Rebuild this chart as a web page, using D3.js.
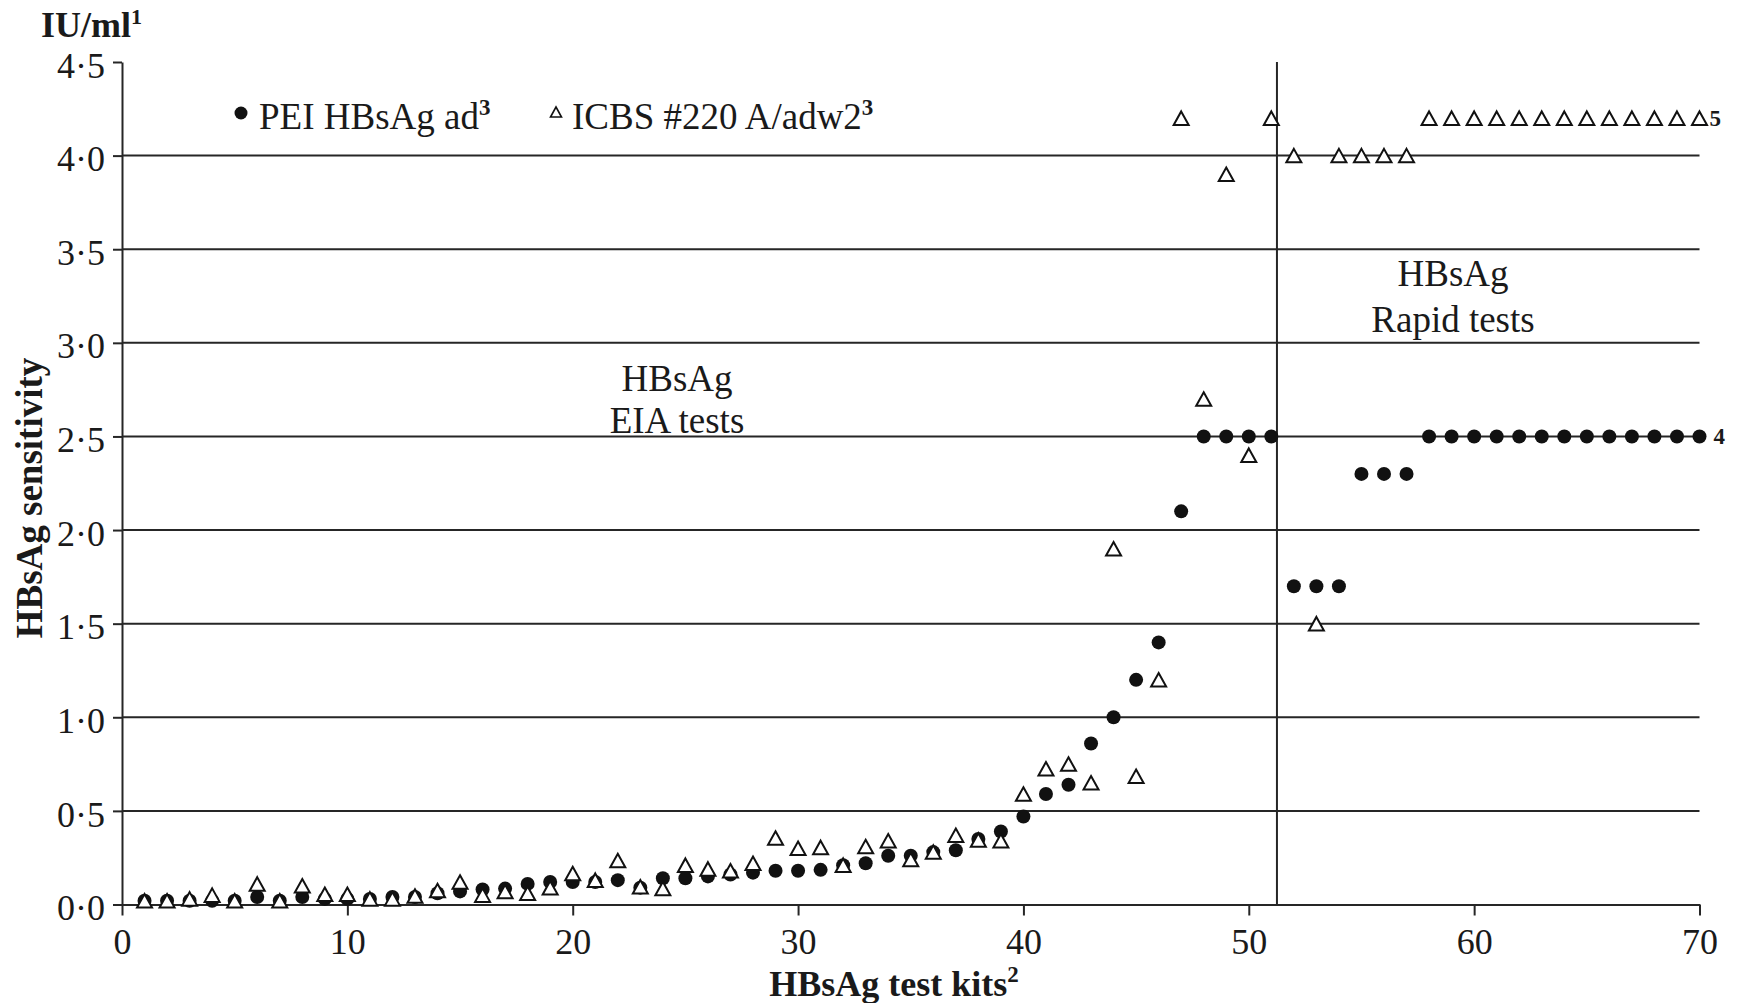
<!DOCTYPE html>
<html>
<head>
<meta charset="utf-8">
<script src="https://cdn.jsdelivr.net/npm/d3@7"></script>
<style>
  html, body { margin: 0; padding: 0; background: #fff; }
  svg { display: block; }
  text { font-family: "Liberation Serif", "Times New Roman", serif; fill: #1a1a1a; }
</style>
</head>
<body>
<script>
// ---------------- DATA ----------------
const kits = [1,2,3,4,5,6,7,8,9,10,11,12,13,14,15,16,17,18,19,20,
              21,22,23,24,25,26,27,28,29,30,31,32,33,34,35,36,37,38,39,40,
              41,42,43,44,45,46,47,48,49,50,51,52,53,54,55,56,57,58,59,60,
              61,62,63,64,65,66,67,68,69,70];

// PEI HBsAg ad (filled dots), IU/ml
const pei = [0.02,0.02,0.02,0.02,0.02,0.04,0.02,0.04,0.03,0.03,
             0.03,0.04,0.04,0.06,0.07,0.08,0.085,0.11,0.12,0.12,
             0.12,0.13,0.09,0.14,0.14,0.15,0.16,0.17,0.18,0.18,
             0.185,0.21,0.22,0.26,0.26,0.28,0.29,0.35,0.39,0.47,
             0.59,0.64,0.86,1.0,1.2,1.4,2.1,2.5,2.5,2.5,
             2.5,1.7,1.7,1.7,2.3,2.3,2.3,2.5,2.5,2.5,
             2.5,2.5,2.5,2.5,2.5,2.5,2.5,2.5,2.5,2.5];

// ICBS #220 A/adw2 (open triangles), IU/ml
const icbs = [0.02,0.02,0.03,0.05,0.02,0.11,0.02,0.10,0.055,0.055,
              0.03,0.03,0.045,0.075,0.12,0.05,0.07,0.06,0.09,0.165,
              0.13,0.235,0.095,0.085,0.21,0.19,0.18,0.22,0.355,0.30,
              0.305,0.21,0.31,0.34,0.24,0.28,0.37,0.345,0.34,0.59,
              0.725,0.75,0.65,1.9,0.685,1.2,4.2,2.7,3.9,2.4,
              4.2,4.0,1.5,4.0,4.0,4.0,4.0,4.2,4.2,4.2,
              4.2,4.2,4.2,4.2,4.2,4.2,4.2,4.2,4.2,4.2];

const xTicks = [0,10,20,30,40,50,60,70];
const xTickLabels = ["0","10","20","30","40","50","60","70"];
const yTicks = [0,0.5,1,1.5,2,2.5,3,3.5,4,4.5];
const yTickLabels = ["0·0","0·5","1·0","1·5","2·0","2·5","3·0","3·5","4·0","4·5"];
const gridValues = [0.5,1,1.5,2,2.5,3,3.5,4];
const dividerKit = 51.25;   // boundary between EIA and rapid tests

// ---------------- LAYOUT ----------------
const W = 1743, H = 1003;
const mLeft = 122, mRight = 1699.5, mTop = 62, mBottom = 904.5;
const ink = "#262626";

const svg = d3.select("body").append("svg").attr("width", W).attr("height", H);

const x = d3.scaleLinear().domain([0, 70]).range([mLeft, mRight]);
const y = d3.scaleLinear().domain([0, 4.5]).range([mBottom, mTop]);

// gridlines
svg.append("g").selectAll("line").data(gridValues).join("line")
  .attr("x1", x(0)).attr("x2", x(70))
  .attr("y1", d => y(d)).attr("y2", d => y(d))
  .attr("stroke", ink).attr("stroke-width", 2);

// divider line
svg.append("line")
  .attr("x1", x(dividerKit)).attr("x2", x(dividerKit))
  .attr("y1", y(4.5)).attr("y2", y(0))
  .attr("stroke", ink).attr("stroke-width", 2);

// axes
const xAxis = svg.append("g").attr("transform", `translate(0,${mBottom})`)
  .call(d3.axisBottom(x).tickValues(xTicks).tickSize(11).tickSizeOuter(0).tickPadding(13)
        .tickFormat((d, i) => xTickLabels[i]));
const yAxis = svg.append("g").attr("transform", `translate(${mLeft},0)`)
  .call(d3.axisLeft(y).tickValues(yTicks).tickSize(9).tickSizeOuter(0).tickPadding(8)
        .tickFormat((d, i) => yTickLabels[i]));
[xAxis, yAxis].forEach(g => {
  g.select(".domain").attr("stroke", ink).attr("stroke-width", 2);
  g.selectAll(".tick line").attr("stroke", ink).attr("stroke-width", 2);
  g.selectAll(".tick text").attr("font-size", 36)
    .attr("font-family", "'Liberation Serif', 'Times New Roman', serif").attr("fill", "#1a1a1a");
});
yAxis.selectAll(".tick text").attr("dy", "0.42em");

// data points: dots first, then triangles (white-filled) on top
const ptsPei = kits.map((k, i) => ({k, v: pei[i]}));
const ptsIcbs = kits.map((k, i) => ({k, v: icbs[i]}));

svg.append("g").selectAll("circle").data(ptsPei).join("circle")
  .attr("cx", d => x(d.k)).attr("cy", d => y(d.v)).attr("r", 7)
  .attr("fill", "#111");

const tri = (w, h) => `M0,${-h/2}L${w/2},${h/2}L${-w/2},${h/2}Z`;
svg.append("g").selectAll("path").data(ptsIcbs).join("path")
  .attr("transform", d => `translate(${x(d.k)},${y(d.v)})`)
  .attr("d", tri(15, 13.5))
  .attr("fill", "#fff").attr("stroke", "#111").attr("stroke-width", 2)
  .attr("stroke-linejoin", "miter");

// legend
svg.append("circle").attr("cx", 241).attr("cy", 113).attr("r", 6.5).attr("fill", "#111");
const l1 = svg.append("text").attr("x", 259).attr("y", 129).attr("font-size", 37);
l1.append("tspan").text("PEI HBsAg ad");
l1.append("tspan").attr("dy", -14).attr("font-size", 23).attr("font-weight", "bold").text("3");

svg.append("path").attr("transform", "translate(556,112)").attr("d", tri(11, 10))
  .attr("fill", "#fff").attr("stroke", "#111").attr("stroke-width", 1.6);
const l2 = svg.append("text").attr("x", 572).attr("y", 129).attr("font-size", 37);
l2.append("tspan").text("ICBS #220 A/adw2");
l2.append("tspan").attr("dy", -14).attr("font-size", 23).attr("font-weight", "bold").text("3");

// end labels
svg.append("text").attr("x", x(70) + 10).attr("y", y(4.2) + 8)
  .attr("font-size", 23).attr("font-weight", "bold").text("5");
svg.append("text").attr("x", x(70) + 14).attr("y", y(2.5) + 8)
  .attr("font-size", 23).attr("font-weight", "bold").text("4");

// annotations
const eia = svg.append("text").attr("text-anchor", "middle").attr("font-size", 37);
eia.append("tspan").attr("x", 677).attr("y", 391).text("HBsAg");
eia.append("tspan").attr("x", 677).attr("y", 433).text("EIA tests");

const rapid = svg.append("text").attr("text-anchor", "middle").attr("font-size", 37);
rapid.append("tspan").attr("x", 1453).attr("y", 286).text("HBsAg");
rapid.append("tspan").attr("x", 1453).attr("y", 332).text("Rapid tests");

// unit label
const unit = svg.append("text").attr("x", 41).attr("y", 37)
  .attr("font-size", 36).attr("font-weight", "bold");
unit.append("tspan").text("IU/ml");
unit.append("tspan").attr("dy", -13).attr("font-size", 22).text("1");

// axis titles
const xt = svg.append("text").attr("x", 894).attr("y", 996).attr("text-anchor", "middle")
  .attr("font-size", 36).attr("font-weight", "bold");
xt.append("tspan").text("HBsAg test kits");
xt.append("tspan").attr("dy", -14).attr("font-size", 23).text("2");

svg.append("text")
  .attr("transform", "translate(42,498) rotate(-90)")
  .attr("text-anchor", "middle").attr("font-size", 37).attr("font-weight", "bold")
  .text("HBsAg sensitivity");
</script>
</body>
</html>
